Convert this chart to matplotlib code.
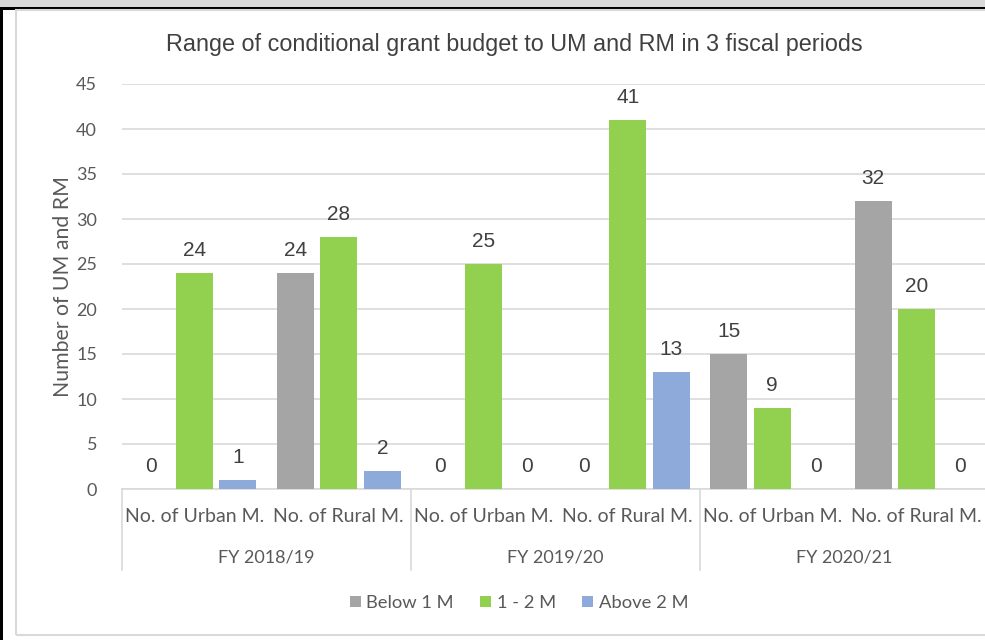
import matplotlib
matplotlib.use("Agg")
import matplotlib.pyplot as plt
from matplotlib.patches import Rectangle
from matplotlib.transforms import blended_transform_factory
import numpy as np

title = "Range of conditional grant budget to UM and RM in 3 fiscal periods"
ylabel = "Number of UM and RM"
groups = ["FY 2018/19", "FY 2019/20", "FY 2020/21"]
subcats = ["No. of Urban M.", "No. of Rural M."]
series = ["Below 1 M", "1 - 2 M", "Above 2 M"]
below_1m = [0, 24, 0, 0, 15, 32]
one_two_m = [24, 28, 25, 41, 9, 20]
above_2m = [1, 2, 0, 13, 0, 0]
colors = ["#a5a5a5", "#92d050", "#8eaadb"]
yticks = [0, 5, 10, 15, 20, 25, 30, 35, 40, 45]

W, H = 985, 640
fig = plt.figure(figsize=(W / 100, H / 100), dpi=100)
fig.patch.set_facecolor("white")

def px(x0, y0, w, h, **kw):
    fig.patches.append(Rectangle((x0 / W, 1 - (y0 + h) / H), w / W, h / H,
                                 transform=fig.transFigure, figure=fig, **kw))

# frame decorations
px(0, 0, W, 7.5, facecolor="#d9d9d9", edgecolor="none")
px(0, 7.5, W, 2, facecolor="black", edgecolor="none")
px(0, 7.5, 2.5, H, facecolor="black", edgecolor="none")
px(15.5, 10, W + 20, 625, facecolor="none", edgecolor="#d9d9d9", linewidth=1.5)

left, right, top, bottom = 122, 989, 84, 489
ax = fig.add_axes([left / W, 1 - bottom / H, (right - left) / W, (bottom - top) / H])

txt = "#595959"
lab_font = ["Lato", "DejaVu Sans"]
num_font = ["Liberation Sans", "DejaVu Sans"]

n = len(below_1m)
xc = np.arange(n) + 0.5
pitch, bw = 0.302, 0.256
all_vals = [below_1m, one_two_m, above_2m]
for k, (vals, c, name) in enumerate(zip(all_vals, colors, series)):
    xs = xc + (k - 1) * pitch
    ax.bar(xs, vals, width=bw, color=c, label=name, zorder=3)
    for x, v in zip(xs, vals):
        ax.annotate(str(v), (x, v), xytext=(0, 16.5), textcoords="offset points",
                    ha="center", va="center", fontsize=15, color="#404040",
                    family=num_font)

ax.set_xlim(0, n)
ax.set_ylim(0, 45)
ax.set_yticks(yticks)
ax.set_yticklabels([str(t) for t in yticks], family=lab_font, fontsize=13, color=txt)
ax.tick_params(axis="y", length=0, pad=18)
ax.set_xticks([])
ax.grid(axis="y", color="#d9d9d9", linewidth=1.2, zorder=0)
for s in ["top", "right", "left"]:
    ax.spines[s].set_visible(False)
ax.spines["bottom"].set_color("#d9d9d9")
ax.spines["bottom"].set_linewidth(1.2)

ax.set_ylabel(ylabel, family=lab_font, fontsize=15.3, color=txt)
ax.yaxis.set_label_coords((73 - left) / (right - left), 0.5)

tr = blended_transform_factory(ax.transData, ax.transAxes)
for i in range(n):
    ax.text(xc[i], -0.069, subcats[i % 2], transform=tr, ha="center", va="center",
            family=lab_font, fontsize=14, color=txt)
for g, name in enumerate(groups):
    ax.text(2 * g + 1, -0.168, name, transform=tr, ha="center", va="center",
            family=lab_font, fontsize=13, color=txt)
for xb in [0, 2, 4, 6]:
    ax.plot([xb, xb], [0, -0.2], transform=tr, color="#d9d9d9", linewidth=1.2,
            clip_on=False)

fig.text(514 / W, 1 - 44 / H, title, ha="center", va="center", family=num_font,
         fontsize=16.8, color="#404040")

leg = fig.legend(loc="center", bbox_to_anchor=(519 / W, 1 - 603 / H), ncol=3,
                 frameon=False, handlelength=0.6, handleheight=0.6,
                 handletextpad=0.3, columnspacing=1.45,
                 prop={"family": lab_font, "size": 13.2})
for t in leg.get_texts():
    t.set_color(txt)

fig.savefig("out.png", dpi=100)
